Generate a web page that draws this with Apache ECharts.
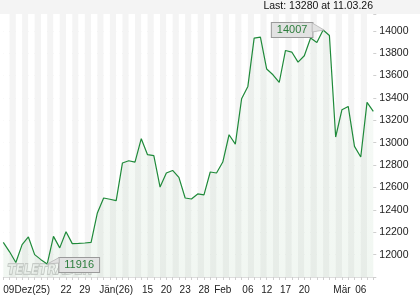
<!DOCTYPE html>
<html>
<head>
<meta charset="utf-8">
<script src="https://cdn.jsdelivr.net/npm/echarts@6/dist/echarts.min.js"></script>
<style>html,body{margin:0;padding:0;background:#fff}#c{width:420px;height:300px}</style>
</head>
<body>
<div id="c"></div>
<script>
// Closing values, one per trading day (Dec 2025 – 11 Mar 2026)
const values = [
  12110, 12025, 11930, 12089, 12158, 12000, 11955, 11916, 12163, 12060,
  12205, 12098, 12100, 12104, 12110, 12372, 12506, 12495, 12482, 12819,
  12839, 12827, 13036, 12893, 12884, 12604, 12729, 12752, 12690, 12506,
  12497, 12542, 12533, 12738, 12729, 12827, 13071, 12988, 13393, 13503,
  13935, 13944, 13658, 13607, 13538, 13824, 13810, 13720, 13777, 13935,
  13896, 14007, 13958, 13051, 13295, 13324, 12967, 12872, 13360, 13280
];
// x-axis tick labels by category index
const tickLabels = {0:'09Dez(25)', 10:'22', 13:'29', 18:'Jän(26)', 23:'15', 26:'20', 29:'23', 32:'28',
  35:'Feb', 39:'06', 42:'12', 45:'17', 48:'20', 54:'Mär', 57:'06'};
const categories = values.map((v, i) => String(i));
const yTicks = [12000, 12200, 12400, 12600, 12800, 13000, 13200, 13400, 13600, 13800, 14000];
const maxIdx = 51, minIdx = 7;
const headerText = 'Last: 13280 at 11.03.26';

const chart = echarts.init(document.getElementById('c'), null, {renderer: 'canvas'});
const font = 'Liberation Sans, Arial, sans-serif';
const boxLabel = (dx, dy) => ({
  show: true, position: 'inside', offset: [dx, dy],
  formatter: p => String(p.value),
  backgroundColor: '#e2e2e2', borderColor: '#9a9a9a', borderWidth: 1,
  padding: [2, 5, 1, 5], color: '#2c7d3c', fontSize: 11, fontFamily: font
});
chart.setOption({
  animation: false,
  backgroundColor: '#ffffff',
  title: {
    text: headerText, right: 47, top: 1, padding: 0,
    textStyle: {fontSize: 10.5, fontWeight: 'normal', color: '#111', fontFamily: font}
  },
  grid: {left: 3.3, right: 46.7, top: 14, bottom: 23},
  xAxis: {
    type: 'category', data: categories, boundaryGap: false,
    axisLine: {show: true, lineStyle: {color: '#dddddd'}},
    axisTick: {show: true, interval: 0, length: 3, lineStyle: {color: '#cfcfcf'}},
    axisLabel: {
      interval: 0, margin: 8, fontSize: 10, color: '#222', fontFamily: font,
      alignMinLabel: 'left',
      formatter: (v, i) => tickLabels[i] || ''
    },
    splitLine: {show: false},
    splitArea: {show: true, interval: 0, areaStyle: {color: ['#ffffff', '#f4f4f4']}}
  },
  yAxis: {
    type: 'value', position: 'right', min: 11800, max: 14150, interval: 200,
    axisLine: {show: false},
    axisTick: {show: true, length: 3, lineStyle: {color: '#cfcfcf'}},
    axisLabel: {
      margin: 6, fontSize: 10.5, color: '#222', fontFamily: font,
      formatter: v => yTicks.includes(v) ? String(v) : ''
    },
    splitLine: {show: true, showMaxLine: false, lineStyle: {color: '#e4e4e4'}}
  },
  series: [{
    type: 'line', data: values, symbol: 'none', z: 3,
    lineStyle: {color: '#1f8a3a', width: 1.2},
    areaStyle: {
      origin: 'start',
      color: new echarts.graphic.LinearGradient(0, 0, 0, 1, [
        {offset: 0, color: 'rgba(60,140,70,0.05)'},
        {offset: 1, color: 'rgba(60,140,70,0.1)'}
      ])
    },
    markPoint: {
      symbol: 'rect', symbolSize: 1, z: 10, itemStyle: {color: 'rgba(0,0,0,0)'},
      data: [
        {coord: [maxIdx, values[maxIdx]], value: values[maxIdx], label: boxLabel(-31, 0)},
        {coord: [minIdx, values[minIdx]], value: values[minIdx], label: boxLabel(32, 1)}
      ]
    }
  }]
});

// header band, watermark and callout pointers (positions derived from data via the chart's scales)
const pMax = chart.convertToPixel({gridIndex: 0}, [maxIdx, values[maxIdx]]);
const pMin = chart.convertToPixel({gridIndex: 0}, [minIdx, values[minIdx]]);
chart.setOption({
  graphic: [
    {type: 'rect', z: -10, silent: true, shape: {x: 0, y: 0, width: 420, height: 14}, style: {fill: '#f4f4f4'}},
    {type: 'polygon', z: 100, silent: true,
      shape: {points: [[pMax[0] - 11, pMax[1] - 7], [pMax[0] - 11, pMax[1] + 2], [pMax[0] + 1, pMax[1]]]},
      style: {fill: '#e2e2e2', stroke: '#b5b5b5', lineWidth: 0.8}},
    {type: 'polygon', z: 100, silent: true,
      shape: {points: [[pMin[0] + 12, pMin[1] - 6.5], [pMin[0] + 12, pMin[1] - 1], [pMin[0], pMin[1]]]},
      style: {fill: '#e2e2e2', stroke: '#b5b5b5', lineWidth: 0.8}},
    {type: 'text', z: 2, silent: true, left: 7, top: 263, scaleX: 1.12, scaleY: 1.3,
      style: {text: 'TELETRADER', fontSize: 10.5, fontWeight: 'bold', fontStyle: 'italic',
        fontFamily: 'DejaVu Sans, sans-serif', fill: 'rgba(255,255,255,0.6)', stroke: '#c4c4c4', lineWidth: 1}}
  ]
});
</script>
</body>
</html>
